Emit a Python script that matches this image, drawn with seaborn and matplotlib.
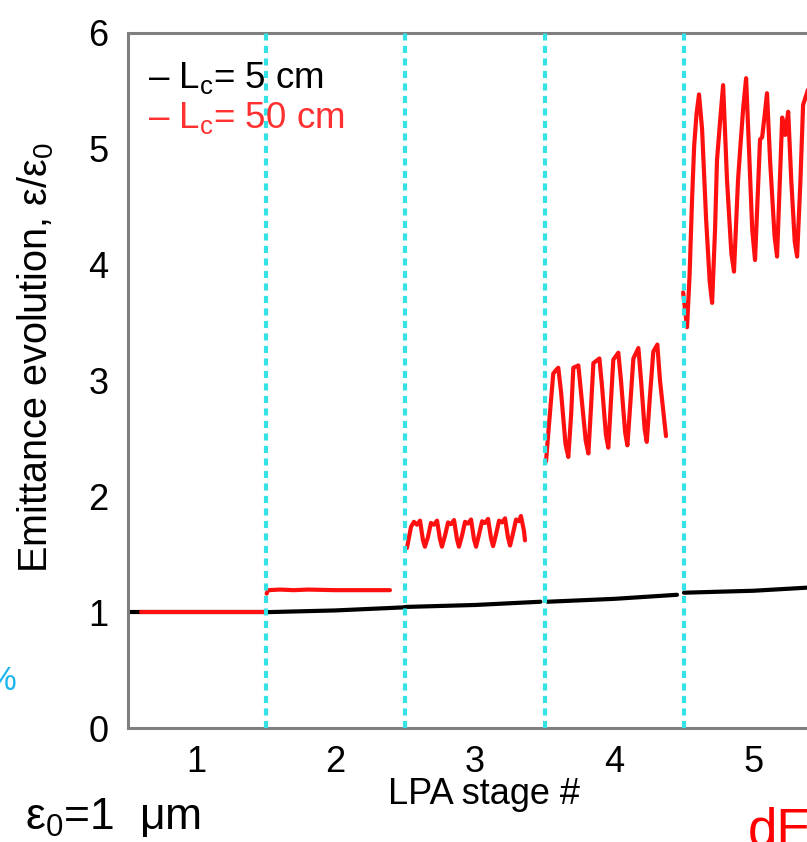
import numpy as np
import pandas as pd
import matplotlib
matplotlib.use("Agg")
import matplotlib.pyplot as plt
import seaborn as sns

# ---------------- data ----------------
stage_ticks = [1, 2, 3, 4, 5]
stage_bounds = [1.5, 2.5, 3.5, 4.5]
y_ticks = [0, 1, 2, 3, 4, 5, 6]

# L_c = 5 cm (black), one segment per stage
black_s1_x = [0.51, 1.50]
black_s1_y = [1.00, 1.00]
black_s2_x = [1.50, 2.00, 2.50]
black_s2_y = [1.00, 1.015, 1.042]
black_s3_x = [2.50, 3.00, 3.47]
black_s3_y = [1.045, 1.062, 1.090]
black_s4_x = [3.52, 4.00, 4.45]
black_s4_y = [1.090, 1.115, 1.150]
black_s5_x = [4.50, 5.00, 5.39]
black_s5_y = [1.168, 1.185, 1.212]

# L_c = 50 cm (red)
red_s1_x = [0.60, 1.50]
red_s1_y = [1.00, 1.00]
red_s2_x = [1.505, 1.515, 1.60, 1.70, 1.80, 2.00, 2.20, 2.39]
red_s2_y = [1.16, 1.19, 1.195, 1.19, 1.195, 1.19, 1.19, 1.19]
red_s3_x = [2.512, 2.541, 2.562, 2.584, 2.606, 2.627, 2.641, 2.663, 2.684, 2.706,
            2.728, 2.749, 2.763, 2.785, 2.807, 2.828, 2.850, 2.871, 2.885, 2.907,
            2.929, 2.950, 2.972, 2.993, 3.008, 3.029, 3.051, 3.072, 3.094, 3.115,
            3.130, 3.151, 3.173, 3.194, 3.216, 3.237, 3.252, 3.273, 3.295, 3.316,
            3.330, 3.352, 3.359]
red_s3_y = [1.554, 1.736, 1.780, 1.755, 1.790, 1.620, 1.565, 1.650, 1.770, 1.755,
            1.790, 1.630, 1.565, 1.660, 1.775, 1.760, 1.795, 1.630, 1.565, 1.660,
            1.780, 1.765, 1.800, 1.630, 1.565, 1.670, 1.785, 1.770, 1.805, 1.640,
            1.570, 1.670, 1.790, 1.775, 1.810, 1.645, 1.575, 1.680, 1.800, 1.785,
            1.830, 1.700, 1.620]
red_s4_x = [3.510, 3.530, 3.562, 3.582, 3.598, 3.618, 3.650, 3.670, 3.690, 3.706,
            3.742, 3.761, 3.795, 3.814, 3.832, 3.850, 3.893, 3.912, 3.940, 3.957,
            3.975, 3.993, 4.029, 4.048, 4.078, 4.094, 4.115, 4.137, 4.173, 4.192,
            4.218, 4.233, 4.255, 4.280, 4.309, 4.328, 4.371]
red_s4_y = [2.300, 2.600, 3.060, 3.090, 3.110, 2.900, 2.450, 2.340, 2.700, 3.110,
            3.130, 2.900, 2.480, 2.370, 2.750, 3.150, 3.190, 2.950, 2.530, 2.420,
            2.800, 3.180, 3.240, 3.000, 2.550, 2.440, 2.800, 3.190, 3.280, 3.000,
            2.580, 2.470, 2.850, 3.250, 3.310, 3.000, 2.520]
red_s5_x = [4.494, 4.522, 4.540, 4.558, 4.573, 4.590, 4.608, 4.630, 4.659, 4.685,
            4.702, 4.723, 4.737, 4.760, 4.781, 4.809, 4.840, 4.859, 4.888, 4.903,
            4.925, 4.946, 4.967, 4.990, 5.010, 5.046, 5.061, 5.080, 5.096, 5.118,
            5.150, 5.168, 5.205, 5.226, 5.248, 5.270, 5.295, 5.312, 5.335, 5.355,
            5.390]
red_s5_y = [3.760, 3.460, 3.900, 4.560, 5.020, 5.300, 5.470, 5.170, 4.390, 3.850,
            3.670, 4.300, 4.900, 5.250, 5.550, 4.730, 4.100, 3.940, 4.730, 4.990,
            5.350, 5.610, 4.990, 4.300, 4.040, 5.080, 5.100, 5.300, 5.480, 4.900,
            4.250, 4.070, 5.270, 5.120, 5.320, 4.730, 4.200, 4.070, 4.700, 5.380,
            5.510]

rows = []
for name, segs in [("5 cm", [(black_s1_x, black_s1_y), (black_s2_x, black_s2_y),
                             (black_s3_x, black_s3_y), (black_s4_x, black_s4_y),
                             (black_s5_x, black_s5_y)]),
                   ("50 cm", [(red_s1_x, red_s1_y), (red_s2_x, red_s2_y),
                              (red_s3_x, red_s3_y), (red_s4_x, red_s4_y),
                              (red_s5_x, red_s5_y)])]:
    for k, (xs, ys) in enumerate(segs):
        for xv, yv in zip(xs, ys):
            rows.append({"x": xv, "y": yv, "Lc": name, "seg": f"{name}-{k}"})
df = pd.DataFrame(rows)

# ---------------- style ----------------
sns.set_theme(style="white")
plt.rcParams["font.family"] = ["Liberation Sans", "DejaVu Sans"]
plt.rcParams["mathtext.fontset"] = "custom"
plt.rcParams["mathtext.rm"] = "Liberation Sans"
plt.rcParams["mathtext.it"] = "Liberation Sans:italic"
for k in ["text.color", "axes.labelcolor", "xtick.color", "ytick.color"]:
    plt.rcParams[k] = "black"

W, H = 807, 842
fig = plt.figure(figsize=(W / 100, H / 100), dpi=100)
ax = fig.add_axes([128 / W, 1 - 728 / H, (W - 128) / W, (728 - 33) / H])

palette = {"5 cm": "#000000", "50 cm": "#FF1010"}
sns.lineplot(data=df, x="x", y="y", hue="Lc", units="seg", estimator=None,
             sort=False, palette=palette, linewidth=3.0, legend=False, ax=ax,
             zorder=2)
for ln in ax.lines:
    ln.set_solid_joinstyle("round")
    ln.set_solid_capstyle("round")

for b in stage_bounds:
    ax.axvline(b, color="#35E3E6", lw=3.0, linestyle=(0, (1.7, 1.3)), zorder=3)

ax.set_xlim(0.51, 5.383)
ax.set_ylim(0, 6)
ax.set_xticks(stage_ticks)
ax.set_yticks(y_ticks)
ax.tick_params(axis="x", length=0, pad=12, labelsize=26)
ax.tick_params(axis="y", direction="in", length=8, width=2, color="black",
               pad=14, labelsize=26)
for i, t in enumerate(ax.yaxis.get_major_ticks()):
    if y_ticks[i] < 5:
        t.tick1line.set_visible(False)

for side in ["left", "bottom", "top"]:
    ax.spines[side].set_color("#7f7f7f")
    ax.spines[side].set_linewidth(2.2)
ax.spines["right"].set_visible(False)

ax.set_xlabel("LPA stage #", fontsize=26)
ax.xaxis.set_label_coords((484 - 128) / (W - 128), (728 - 777) / (728 - 33))
ax.set_ylabel(r"Emittance evolution, ε/ε$\mathregular{_0}$", fontsize=28.5)
ax.yaxis.set_label_coords((56 - 128) / (W - 128), (728 - 358) / (728 - 33))

# legend-like colored text
ax.text((148 - 128) / (W - 128), (728 - 88) / (728 - 33),
        r"– L$\mathregular{_c}$= 5 cm", transform=ax.transAxes,
        color="black", fontsize=26.5, va="baseline", ha="left")
ax.text((148 - 128) / (W - 128), (728 - 128) / (728 - 33),
        r"– L$\mathregular{_c}$= 50 cm", transform=ax.transAxes,
        color="#FF3030", fontsize=26.5, va="baseline", ha="left")

# surrounding fragments of the original slide
fig.text(25 / W, 1 - 829 / H, r"ε$\mathregular{_0}$=1  μm", fontsize=32,
         ha="left", va="baseline", color="black")
fig.text(17 / W, 1 - 682 / H, "%", fontsize=24, ha="right", va="center",
         color="#18B4EE")
fig.text(748 / W, 1 - 806 / H, "dE", fontsize=38, ha="left", va="top",
         color="#FF0000")

fig.savefig("out.png", dpi=100)
